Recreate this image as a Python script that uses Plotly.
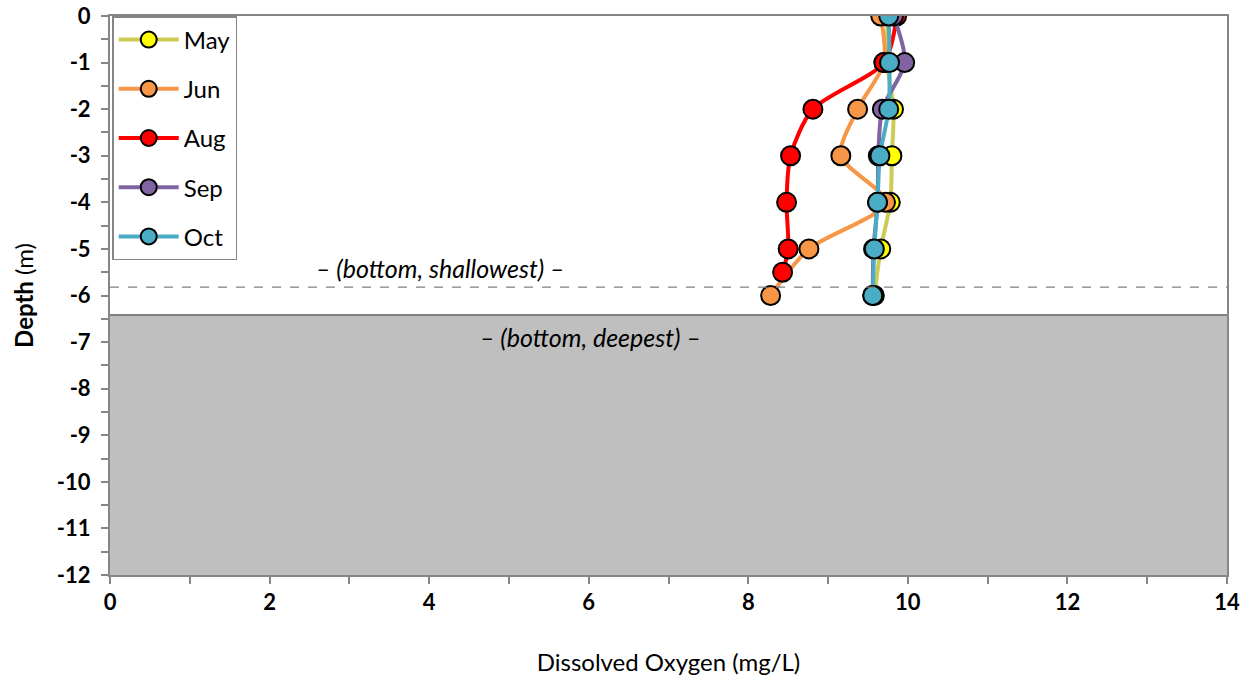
import plotly.graph_objects as go

# Dissolved oxygen profiles by month (depth in m, DO in mg/L)
depths = [0, -1, -2, -3, -4, -5, -6]
aug_depths = [0, -1, -2, -3, -4, -5, -5.5]

may_do = [9.75, 9.74, 9.82, 9.80, 9.78, 9.66, 9.58]
jun_do = [9.66, 9.70, 9.37, 9.16, 9.72, 8.76, 8.28]
aug_do = [9.86, 9.70, 8.81, 8.53, 8.48, 8.50, 8.43]
sep_do = [9.82, 9.96, 9.68, 9.63, 9.62, 9.57, 9.56]
oct_do = [9.76, 9.77, 9.76, 9.65, 9.62, 9.58, 9.56]

months = ["May", "Jun", "Aug", "Sep", "Oct"]
line_colors = ["#CCCC55", "#F79646", "#FF0000", "#8064A2", "#4BACC6"]
fill_colors = ["#FFFF00", "#F79646", "#FF0000", "#8064A2", "#4BACC6"]

bottom_shallowest = -5.82
bottom_deepest = -6.42

x_ticks = [0, 2, 4, 6, 8, 10, 12, 14]
y_ticks = list(range(0, -13, -1))

FONT = "Lato, 'Open Sans', sans-serif"
AXIS_GRAY = "#868686"

fig = go.Figure()

series = [
    (may_do, depths),
    (jun_do, depths),
    (aug_do, aug_depths),
    (sep_do, depths),
    (oct_do, depths),
]

for name, (vals, dep), lc, fc in zip(months, series, line_colors, fill_colors):
    fig.add_trace(go.Scatter(
        x=vals, y=dep, name=name, legendgroup=name,
        mode="lines+markers",
        line=dict(color=lc, width=4, shape="spline", smoothing=0.8),
        marker=dict(size=19, color=fc, line=dict(color="black", width=2)),
    ))

# Lake bottom: deepest point shaded, shallowest point dashed
fig.add_shape(type="rect", xref="x", yref="y", x0=0, x1=14,
              y0=-12, y1=bottom_deepest, fillcolor="#BFBFBF",
              line=dict(width=0), layer="below")
fig.add_shape(type="line", xref="x", yref="y", x0=0, x1=14,
              y0=bottom_deepest, y1=bottom_deepest,
              line=dict(color="#808080", width=2))
fig.add_shape(type="line", xref="x", yref="y", x0=0, x1=14,
              y0=bottom_shallowest, y1=bottom_shallowest,
              line=dict(color="#808080", width=1.2, dash="dash"))

fig.add_annotation(x=4.14, y=-5.41, xref="x", yref="y",
                   text="<i>– (bottom, shallowest) –</i>", showarrow=False,
                   font=dict(family=FONT, size=25, color="black"))
fig.add_annotation(x=6.02, y=-6.89, xref="x", yref="y",
                   text="<i>– (bottom, deepest) –</i>", showarrow=False,
                   font=dict(family=FONT, size=25, color="black"))

fig.update_layout(
    width=1254, height=678,
    margin=dict(l=110, r=27, t=16, b=103),
    paper_bgcolor="white", plot_bgcolor="white",
    font=dict(family=FONT, color="black"),
    showlegend=True,
    legend=dict(
        x=0.002, y=1.0, xanchor="left", yanchor="top",
        bgcolor="white", bordercolor=AXIS_GRAY, borderwidth=1.5,
        font=dict(family=FONT, size=24, color="black"),
        tracegroupgap=15,
        itemwidth=60,
    ),
    xaxis=dict(
        range=[0, 14], tickvals=x_ticks, ticktext=[f"<b>{v}</b>" for v in x_ticks],
        showgrid=False, zeroline=False, automargin=False,
        showline=True, linecolor=AXIS_GRAY, linewidth=2, mirror=True,
        ticks="outside", ticklen=7, tickwidth=2, tickcolor=AXIS_GRAY,
        minor=dict(dtick=1, ticks="outside", ticklen=7, tickwidth=2, tickcolor=AXIS_GRAY),
        tickfont=dict(size=22, family=FONT),
        title=dict(text="Dissolved Oxygen (mg/L)", font=dict(size=24, family=FONT), standoff=40),
    ),
    yaxis=dict(
        range=[-12, 0], tickvals=y_ticks, ticktext=[f"<b>{v}</b>" for v in y_ticks],
        showgrid=False, zeroline=False, automargin=False,
        showline=True, linecolor=AXIS_GRAY, linewidth=2, mirror=True,
        ticks="outside", ticklen=7, tickwidth=2, tickcolor=AXIS_GRAY,
        minor=dict(dtick=0.5, ticks="outside", ticklen=7, tickwidth=2, tickcolor=AXIS_GRAY),
        tickfont=dict(size=22, family=FONT),
        ticklabelstandoff=6,
        title=dict(text="<b>Depth</b> (m)", font=dict(size=24, family=FONT), standoff=16),
    ),
)

fig.write_html("out.html")
